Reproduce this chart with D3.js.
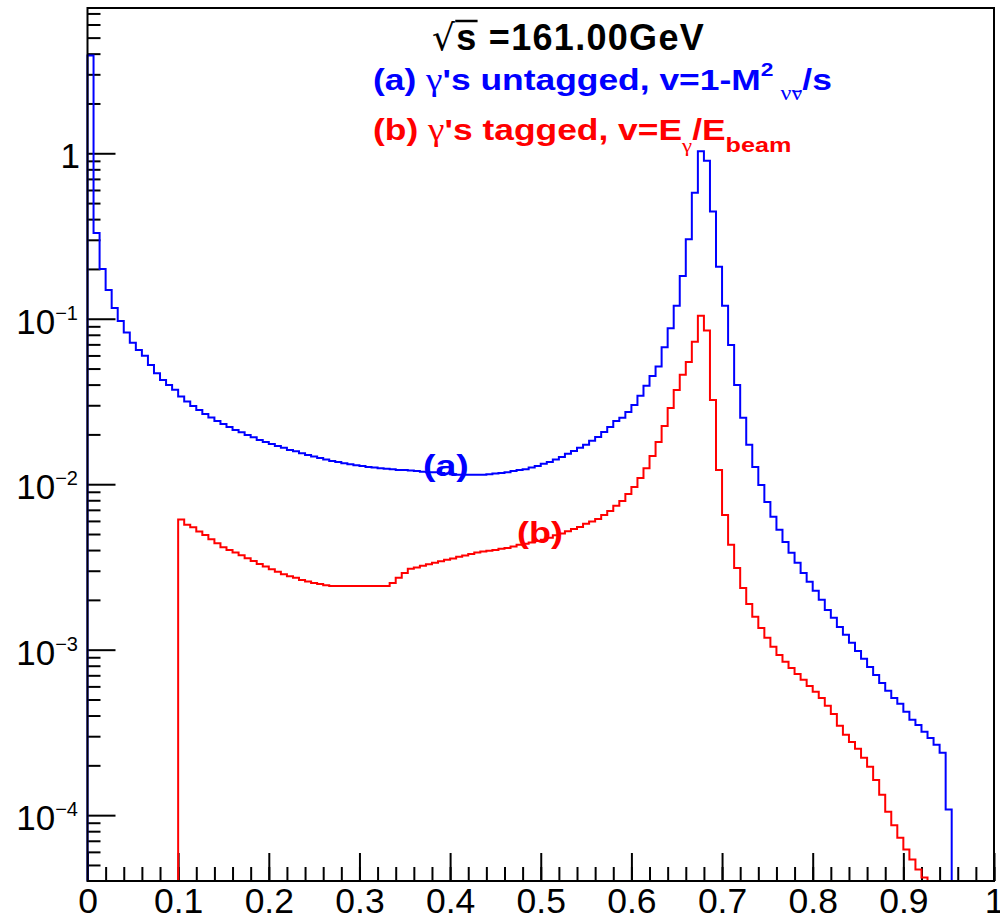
<!DOCTYPE html>
<html>
<head>
<meta charset="utf-8">
<script src="https://cdn.jsdelivr.net/npm/d3@7"></script>
<style>
  body { margin: 0; background: #fff; }
  svg { display: block; }
  text { font-family: "Liberation Sans", Arial, sans-serif; }
</style>
</head>
<body>
<div id="container"></div>
<script>
/* DATA */
const nBins = 150
const xRange = [0, 1]
const yRange = [4e-5, 7.55]

// (a) gammas untagged, v = 1 - M^2/s  (one value per bin)
const untagged = [
  3.9, 0.33, 0.20, 0.149, 0.116, 0.097, 0.0825, 0.0717, 0.0648, 0.0598,
  0.0526, 0.0469, 0.0427, 0.0398, 0.0372, 0.0339, 0.0316, 0.0297, 0.0281, 0.0266,
  0.0253, 0.0241, 0.0231, 0.0222, 0.0213, 0.0206, 0.0198, 0.0192, 0.0185, 0.0180,
  0.0175, 0.0170, 0.0166, 0.0161, 0.0158, 0.0154, 0.0150, 0.0147, 0.0144, 0.0141,
  0.0138, 0.0136, 0.0134, 0.0132, 0.0130, 0.0129, 0.0127, 0.0126, 0.0125, 0.0124,
  0.0123, 0.0122, 0.0122, 0.0121, 0.0120, 0.0119, 0.0118, 0.0118, 0.0117, 0.0116,
  0.0115, 0.0114, 0.0114, 0.0114, 0.0114, 0.0114, 0.0115, 0.0116, 0.0117, 0.0118,
  0.0120, 0.0122, 0.0123, 0.0126, 0.0129, 0.0133, 0.0136, 0.0141, 0.0146, 0.0153,
  0.0159, 0.0166, 0.0173, 0.0183, 0.0193, 0.0207, 0.0222, 0.0241, 0.0252, 0.0273,
  0.0301, 0.0342, 0.0393, 0.0451, 0.0514, 0.0673, 0.0876, 0.120, 0.181, 0.302,
  0.578, 1.03, 0.902, 0.444, 0.206, 0.120, 0.0694, 0.0398, 0.0252, 0.0173,
  0.0127, 0.0099, 0.00782, 0.00635, 0.00530, 0.00448, 0.00385, 0.00335, 0.00291, 0.00257,
  0.00227, 0.00200, 0.00174, 0.00156, 0.00137, 0.00123, 0.00110, 0.000983, 0.00088, 0.000787,
  0.000704, 0.000630, 0.000564, 0.000511, 0.000471, 0.000421, 0.000377, 0.000351, 0.000319, 0.000293,
  0.000266, 0.000238, 0.000108, 0, 0, 0, 0, 0, 0, 0
]

// (b) gammas tagged, v = E_gamma / E_beam
const tagged = [
  0, 0, 0, 0, 0, 0, 0, 0, 0, 0,
  0, 0, 0, 0, 0, 0.00613, 0.00568, 0.00550, 0.00517, 0.00494,
  0.00465, 0.00440, 0.00416, 0.00401, 0.00386, 0.00372, 0.00357, 0.00344, 0.00330, 0.00318,
  0.00306, 0.00296, 0.00286, 0.00278, 0.00272, 0.00264, 0.00258, 0.00253, 0.00249, 0.00245,
  0.00243, 0.00243, 0.00243, 0.00243, 0.00243, 0.00243, 0.00243, 0.00243, 0.00243, 0.00243,
  0.00253, 0.00272, 0.00291, 0.00308, 0.00314, 0.00321, 0.00328, 0.00335, 0.00342, 0.00349,
  0.00356, 0.00364, 0.00371, 0.00379, 0.00386, 0.00392, 0.00396, 0.00401, 0.00407, 0.00412,
  0.00420, 0.00430, 0.00436, 0.00445, 0.00454, 0.00461, 0.00474, 0.00491, 0.00504, 0.00519,
  0.00537, 0.00552, 0.00576, 0.00596, 0.00617, 0.00652, 0.00690, 0.00740, 0.00793, 0.00874,
  0.00963, 0.0109, 0.0125, 0.0148, 0.0180, 0.0225, 0.0289, 0.0371, 0.0458, 0.0548,
  0.0727, 0.1044, 0.0848, 0.0323, 0.0122, 0.00652, 0.00430, 0.00312, 0.00236, 0.00189,
  0.00158, 0.00135, 0.00118, 0.00104, 0.00093, 0.000844, 0.000776, 0.000714, 0.000657, 0.000604,
  0.000556, 0.000511, 0.000458, 0.000409, 0.000347, 0.000306, 0.000277, 0.000252, 0.000222, 0.000196,
  0.000163, 0.000133, 0.000105, 0.000087, 0.000073, 0.000062, 0.000054, 0.000047, 0.000042, 0,
  0, 0, 0, 0, 0, 0, 0, 0, 0, 0
]

const xTickValues = [0, 0.1, 0.2, 0.3, 0.4, 0.5, 0.6, 0.7, 0.8, 0.9, 1]
const xTickLabels = ["0", "0.1", "0.2", "0.3", "0.4", "0.5", "0.6", "0.7", "0.8", "0.9", "1"]
const yDecades = [1e-4, 1e-3, 1e-2, 1e-1, 1]
const yDecadeLabels = [["10", "\u22124"], ["10", "\u22123"], ["10", "\u22122"], ["10", "\u22121"], ["1", ""]]

/* CONSTANTS */
const width = 1000,
  height = 920,
  margin = { top: 8, bottom: 39, left: 87.5, right: 6 }

const svg = d3.select("#container")
  .append("svg")
  .attr("width", width)
  .attr("height", height)

// SCALES
const x = d3.scaleLinear(xRange, [margin.left, width - margin.right])
const y = d3.scaleLog(yRange, [height - margin.bottom, margin.top])
const yBottom = height - margin.bottom

// HISTOGRAM OUTLINE AS A STEP PATH
function histPath(vals) {
  const p = d3.path()
  p.moveTo(x(xRange[0]), yBottom)
  vals.forEach((v, i) => {
    const lo = xRange[0] + (xRange[1] - xRange[0]) * i / nBins
    const hi = xRange[0] + (xRange[1] - xRange[0]) * (i + 1) / nBins
    const yy = v > yRange[0] ? Math.max(y(Math.min(v, yRange[1])), margin.top) : yBottom
    p.lineTo(x(lo), yy)
    p.lineTo(x(hi), yy)
  })
  p.lineTo(x(xRange[1]), yBottom)
  return p.toString()
}

// MINOR TICKS
const xMinor = d3.range(0, 51).map(i => i / 50)
const yMinor = []
d3.range(-5, 1).forEach(e => {
  d3.range(2, 10).forEach(m => {
    const v = m * Math.pow(10, e)
    if (v > yRange[0] && v < yRange[1]) yMinor.push(v)
  })
})

function styleAxis(g) {
  g.select(".domain").remove()
  g.selectAll(".tick line").attr("stroke", "#000").attr("stroke-width", 2)
}

svg.append("g")
  .attr("transform", `translate(0,${yBottom})`)
  .call(d3.axisBottom(x).tickValues(xMinor).tickSize(-14).tickFormat(""))
  .call(styleAxis)

const xAxis = svg.append("g")
  .attr("transform", `translate(0,${yBottom})`)
  .call(d3.axisBottom(x).tickValues(xTickValues).tickSize(-28).tickPadding(7)
    .tickFormat((d, i) => xTickLabels[i]))
  .call(styleAxis)
xAxis.selectAll("text")
  .attr("font-size", 35.5)
  .attr("font-family", "Liberation Sans, Arial, sans-serif")
  .attr("fill", "#000")

svg.append("g")
  .attr("transform", `translate(${margin.left},0)`)
  .call(d3.axisLeft(y).tickValues(yMinor).tickSize(-13).tickFormat(""))
  .call(styleAxis)

svg.append("g")
  .attr("transform", `translate(${margin.left},0)`)
  .call(d3.axisLeft(y).tickValues(yDecades).tickSize(-28).tickFormat(""))
  .call(styleAxis)

// Y LABELS (powers of ten)
yDecades.forEach((d, i) => {
  const [base, expo] = yDecadeLabels[i]
  const t = svg.append("text")
    .attr("x", expo ? 78 : 80)
    .attr("y", y(d) + 15)
    .attr("text-anchor", "end")
    .attr("fill", "#000")
  t.append("tspan").attr("font-size", 35).text(base)
  if (expo) t.append("tspan").attr("font-size", 20).attr("dy", -14).text(expo)
})

// HISTOGRAMS
svg.append("path")
  .attr("d", histPath(untagged))
  .attr("fill", "none")
  .attr("stroke", "#0000ff")
  .attr("stroke-width", 2)

svg.append("path")
  .attr("d", histPath(tagged))
  .attr("fill", "none")
  .attr("stroke", "#ff0000")
  .attr("stroke-width", 2)

// FRAME
svg.append("rect")
  .attr("x", margin.left)
  .attr("y", margin.top)
  .attr("width", width - margin.left - margin.right)
  .attr("height", yBottom - margin.top)
  .attr("fill", "none")
  .attr("stroke", "#000")
  .attr("stroke-width", 2)

// TITLE  sqrt(s) = 161.00GeV
const title = svg.append("text")
  .attr("x", 432)
  .attr("y", 50)
  .attr("font-size", 36)
  .attr("font-weight", "bold")
  .attr("letter-spacing", 1.3)
  .attr("fill", "#000")
title.append("tspan").attr("font-weight", "normal").attr("font-family", "DejaVu Sans").text("\u221A")
title.append("tspan").text("s =161.00GeV")
const sBox = title.node().getExtentOfChar(1)
svg.append("line")
  .attr("x1", sBox.x - 1).attr("x2", sBox.x + sBox.width)
  .attr("y1", 21).attr("y2", 21)
  .attr("stroke", "#000").attr("stroke-width", 2.5)

// LEGEND LINES (the original lettering is wider than Liberation Sans, so stretch it)
const greek = "Liberation Serif, DejaVu Serif, serif"
const stretch = 1.2

const ga = svg.append("g").attr("transform", `translate(373,90) scale(${stretch},1)`)
const la = ga.append("text")
  .attr("font-size", 29.5).attr("font-weight", "bold")
  .attr("fill", "#0000ff")
la.append("tspan").text("(a) ")
la.append("tspan").attr("font-family", greek).attr("font-weight", "normal").attr("font-size", 31).text("\u03B3")
la.append("tspan").text("'s untagged, v=1-M")
la.append("tspan").attr("font-size", 19).attr("dy", -14).text("2")
la.append("tspan").attr("font-family", greek).attr("font-weight", "normal").attr("font-size", 20)
  .attr("dx", 6).attr("dy", 24).text("\u03BD\u03BD")
la.append("tspan").attr("dy", -10).text("/s")
// bar over the second nu
const nuChars = la.text().length
const nuBox = la.node().getExtentOfChar(nuChars - 3)
ga.append("line")
  .attr("x1", nuBox.x + 1).attr("x2", nuBox.x + nuBox.width - 1)
  .attr("y1", nuBox.y + nuBox.height * 0.42).attr("y2", nuBox.y + nuBox.height * 0.42)
  .attr("stroke", "#0000ff").attr("stroke-width", 1.5)

const gb = svg.append("g").attr("transform", `translate(373,140) scale(${stretch},1)`)
const lb = gb.append("text")
  .attr("font-size", 29.5).attr("font-weight", "bold")
  .attr("fill", "#ff0000")
lb.append("tspan").text("(b) ")
lb.append("tspan").attr("font-family", greek).attr("font-weight", "normal").attr("font-size", 31).text("\u03B3")
lb.append("tspan").text("'s tagged, v=E")
lb.append("tspan").attr("font-family", greek).attr("font-weight", "normal").attr("font-size", 19)
  .attr("dy", 12).text("\u03B3")
lb.append("tspan").attr("dy", -12).text("/E")
lb.append("tspan").attr("font-size", 21).attr("dy", 12).text("beam")

// CURVE LABELS
svg.append("text")
  .attr("transform", `translate(423,476) scale(1.25,1)`)
  .attr("font-size", 30).attr("font-weight", "bold")
  .attr("fill", "#0000ff")
  .text("(a)")

svg.append("text")
  .attr("transform", `translate(517,543) scale(1.2,1)`)
  .attr("font-size", 30).attr("font-weight", "bold")
  .attr("fill", "#ff0000")
  .text("(b)")
</script>
</body>
</html>
